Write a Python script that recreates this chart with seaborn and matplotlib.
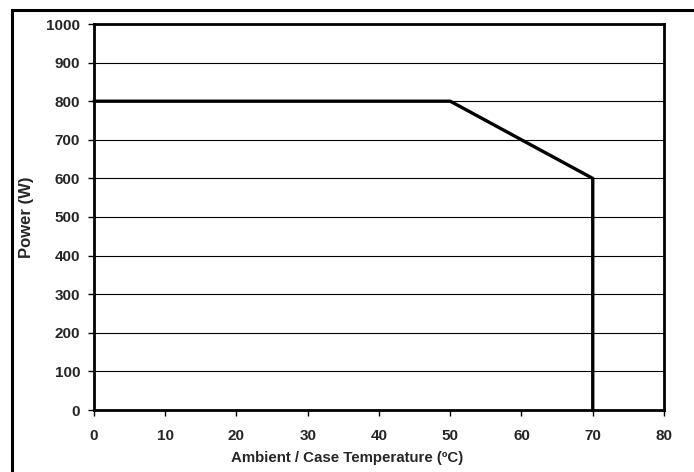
import matplotlib
matplotlib.use("Agg")
import matplotlib.pyplot as plt
import seaborn as sns
import pandas as pd
from matplotlib.patches import Rectangle

temperature = [0, 50, 70, 70]
power = [800, 800, 600, 0]
x_ticks = [0, 10, 20, 30, 40, 50, 60, 70, 80]
y_ticks = [0, 100, 200, 300, 400, 500, 600, 700, 800, 900, 1000]

sns.set_theme(style="white")
plt.rcParams['font.family'] = ['Liberation Sans', 'DejaVu Sans']

df = pd.DataFrame({"temp": temperature, "power": power})

W, H = 694, 472
fig = plt.figure(figsize=(W/100, H/100), dpi=100)
ax = fig.add_axes([94/W, 1-410/H, (664-94)/W, (410-24)/H])

for y in y_ticks[1:-1]:
    ax.axhline(y, color="black", lw=0.8, zorder=1)

sns.lineplot(data=df, x="temp", y="power", sort=False, estimator=None,
             color="black", lw=2.4, ax=ax, zorder=3, clip_on=False)

ax.set_xlim(0, 80)
ax.set_ylim(0, 1000)
ax.set_xticks(x_ticks)
ax.set_yticks(y_ticks)
ax.set_xticklabels([str(v) for v in x_ticks], fontsize=11, fontweight="bold")
ax.set_yticklabels([str(v) for v in y_ticks], fontsize=11, fontweight="bold")
ax.tick_params(axis="x", direction="out", length=4, width=1, color="black",
               bottom=True, pad=10)
ax.tick_params(axis="y", direction="out", length=4, width=1, color="black",
               left=True, pad=6)
ax.set_xlabel("Ambient / Case Temperature (ºC)", fontsize=10.8, fontweight="bold")
ax.set_ylabel("Power (W)", fontsize=12, fontweight="bold")
ax.xaxis.set_label_coords(347/W, 1-458/H, transform=fig.transFigure)
ax.xaxis.label.set_va("center")
ax.yaxis.set_label_coords(27/W, 1-217/H, transform=fig.transFigure)
ax.yaxis.label.set_ha("center")
ax.yaxis.label.set_va("center")

for side in ["left", "bottom", "top", "right"]:
    ax.spines[side].set_visible(True)
    ax.spines[side].set_color("black")
    ax.spines[side].set_linewidth(2)

fig.patches.append(Rectangle((11.5/W, -0.1), 1.2, 1 - 9.5/H + 0.1,
                             transform=fig.transFigure, fill=False,
                             edgecolor="black", lw=2.2))

fig.savefig("out.png", dpi=100)
